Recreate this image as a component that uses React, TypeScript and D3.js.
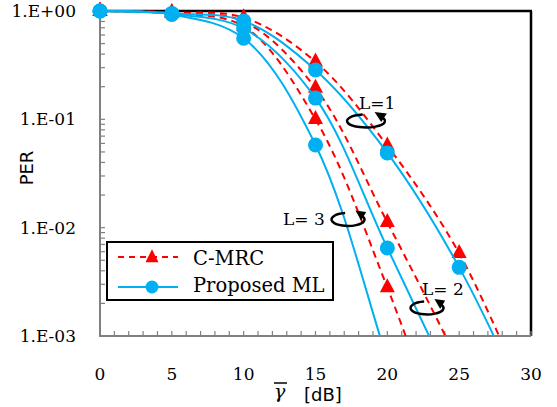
import React from "react";
import * as d3 from "d3";

// ---- data ----
const snrDb = [0, 5, 10, 15, 20, 25, 30];
const cmrcL1 = [1.0, 0.97, 0.87, 0.34, 0.057, 0.0058, 0.00021];
const cmrcL2 = [1.0, 0.96, 0.8, 0.194, 0.0112, 0.00055, 0.00002];
const cmrcL3 = [1.0, 0.95, 0.72, 0.1, 0.0028, 0.00004, 0.0000005];
const propL1 = [1.0, 0.95, 0.81, 0.285, 0.049, 0.0043, 0.00018];
const propL2 = [1.0, 0.94, 0.69, 0.157, 0.0065, 0.00026, 0.00001];
const propL3 = [1.0, 0.93, 0.56, 0.058, 0.0006, 0.000004, 0.00000002];
const xTicks = [0, 5, 10, 15, 20, 25, 30];
const yTicks = [1, 0.1, 0.01, 0.001];
const yTickLabels = ["1.E+00", "1.E-01", "1.E-02", "1.E-03"];
const legendLabels = ["C-MRC", "Proposed ML"];
const annotations = [
  { text: "L=1", tx: 359, ty: 109, cx: 366, cy: 121, rx: 19, ry: 6.5 },
  { text: "L= 3", tx: 283, ty: 225, cx: 348, cy: 219.5, rx: 16.5, ry: 6.5 },
  { text: "L= 2", tx: 422, ty: 295, cx: 427, cy: 308, rx: 16.5, ry: 6.5 },
];

const RED = "#FF0000";
const BLUE = "#00B0F0";
const GRAY = "#808080";
const SERIF = "'DejaVu Serif', serif";
const SANS = "'DejaVu Sans', sans-serif";

const W = 557, H = 407;
const L = 100, R = 531, T = 11, B = 336;

const x = d3.scaleLinear().domain([0, 30]).range([L, R]);
const y = d3.scaleLog().domain([1e-3, 1]).range([B, T]);

const line = d3
  .line<[number, number]>()
  .x((d) => x(d[0]))
  .y((d) => y(d[1]))
  .curve(d3.curveCatmullRom.alpha(0.5));

const pts = (vals: number[]) => snrDb.map((s, i) => [s, vals[i]] as [number, number]);
const visible = (vals: number[]) => pts(vals).filter((p) => p[1] >= 1e-3);

function tri(cx: number, cy: number, w: number, h: number) {
  return `M${cx},${cy - (2 * h) / 3}L${cx + w / 2},${cy + h / 3}L${cx - w / 2},${cy + h / 3}Z`;
}

function arrowArc(cx: number, cy: number, rx: number, ry: number) {
  const a0 = (-100 * Math.PI) / 180;
  const a1 = (-40 * Math.PI) / 180;
  const p0 = [cx + rx * Math.cos(a0), cy + ry * Math.sin(a0)];
  const p1 = [cx + rx * Math.cos(a1), cy + ry * Math.sin(a1)];
  return `M${p0[0]},${p0[1]}A${rx},${ry} 0 1 0 ${p1[0]},${p1[1]}`;
}

export default function App() {
  const cmrc = [cmrcL1, cmrcL2, cmrcL3];
  const prop = [propL1, propL2, propL3];
  const minorX = d3.range(0, 31, 1);
  const minorY: number[] = [];
  [0.001, 0.01, 0.1].forEach((dec) => {
    for (let k = 1; k <= 9; k++) minorY.push(dec * k);
  });
  return (
    <svg
      width={W}
      height={H}
      style={{ position: "absolute", left: 0, top: 0, background: "#fff" }}
    >
      <defs>
        <clipPath id="plotclip">
          <rect x={L - 10} y={0} width={R - L + 20} height={B - 0} />
        </clipPath>
      </defs>
      <rect x={0} y={0} width={W} height={H} fill="#fff" />

      {/* frame: top & right black */}
      <line x1={L} y1={T} x2={R + 1} y2={T} stroke="#000" strokeWidth={2.5} />
      <line x1={R} y1={T} x2={R} y2={B} stroke="#000" strokeWidth={2.5} />

      {/* axes gray */}
      <line x1={L} y1={T} x2={L} y2={B + 1} stroke={GRAY} strokeWidth={2} />
      <line x1={L - 1} y1={B} x2={R} y2={B} stroke={GRAY} strokeWidth={2} />
      {minorX.map((v) => (
        <line key={"mx" + v} x1={x(v)} x2={x(v)} y1={B} y2={B - 5} stroke={GRAY} strokeWidth={1.2} />
      ))}
      {minorY.map((v, i) => (
        <line key={"my" + i} x1={L} x2={L + 5} y1={y(v)} y2={y(v)} stroke={GRAY} strokeWidth={1.2} />
      ))}

      {/* tick labels */}
      {yTicks.map((v, i) => (
        <text
          key={"yt" + i}
          x={76}
          y={y(v)}
          textAnchor="end"
          dominantBaseline="central"
          fontFamily={SERIF}
          fontSize={17}
          fill="#000"
        >
          {yTickLabels[i]}
        </text>
      ))}
      {xTicks.map((v) => (
        <text
          key={"xt" + v}
          x={x(v)}
          y={380}
          textAnchor="middle"
          fontFamily={SERIF}
          fontSize={17}
          fill="#000"
        >
          {v}
        </text>
      ))}

      {/* axis titles */}
      <text
        transform={`translate(33,168) rotate(-90)`}
        textAnchor="middle"
        fontFamily={SANS}
        fontSize={18}
        fill="#000"
      >
        PER
      </text>
      <text x={274} y={398} fontFamily={SERIF} fontStyle="italic" fontSize={19} fill="#000">
        γ
      </text>
      <line x1={274} x2={287} y1={383} y2={383} stroke="#000" strokeWidth={1.5} />
      <text x={304} y={401} fontFamily={SANS} fontSize={18} fill="#000">
        [dB]
      </text>

      {/* series lines */}
      <g clipPath="url(#plotclip)">
        {cmrc.map((s, i) => (
          <path
            key={"cl" + i}
            d={line(pts(s)) || ""}
            fill="none"
            stroke={RED}
            strokeWidth={2}
            strokeDasharray="7,5"
          />
        ))}
      </g>
      {cmrc.map((s, i) =>
        visible(s).map((p, j) => (
          <path key={"cm" + i + "-" + j} d={tri(x(p[0]), y(p[1]), 15, 14)} fill={RED} />
        ))
      )}
      <g clipPath="url(#plotclip)">
        {prop.map((s, i) => (
          <path key={"pl" + i} d={line(pts(s)) || ""} fill="none" stroke={BLUE} strokeWidth={2} />
        ))}
      </g>
      {prop.map((s, i) =>
        visible(s).map((p, j) => (
          <circle key={"pm" + i + "-" + j} cx={x(p[0])} cy={y(p[1])} r={7.5} fill={BLUE} />
        ))
      )}

      {/* annotations */}
      {annotations.map((a, i) => (
        <g key={"an" + i}>
          <text x={a.tx} y={a.ty} fontFamily={SERIF} fontSize={17} fill="#000">
            {a.text}
          </text>
          <path d={arrowArc(a.cx, a.cy, a.rx, a.ry)} fill="none" stroke="#000" strokeWidth={2.5} />
          <path
            d={`M${a.cx + a.rx * 0.45},${a.cy - a.ry - 2.5}L${a.cx + a.rx * 1.1},${a.cy - a.ry - 1}L${a.cx + a.rx * 0.8},${a.cy + 1}Z`}
            fill="#000"
          />
        </g>
      ))}

      {/* legend */}
      <rect x={107} y={242} width={226} height={58} fill="#fff" stroke="#000" strokeWidth={2} />
      <line x1={118} x2={178} y1={257} y2={257} stroke={RED} strokeWidth={2} strokeDasharray="6,5" />
      <path d={tri(152, 258, 13, 13)} fill={RED} />
      <text x={193} y={265} fontFamily={SERIF} fontSize={19.5} fill="#000">
        {legendLabels[0]}
      </text>
      <line x1={118} x2={178} y1={287} y2={287} stroke={BLUE} strokeWidth={2} />
      <circle cx={152} cy={287} r={6.5} fill={BLUE} />
      <text x={193} y={292} fontFamily={SERIF} fontSize={19.5} fill="#000">
        {legendLabels[1]}
      </text>
    </svg>
  );
}
